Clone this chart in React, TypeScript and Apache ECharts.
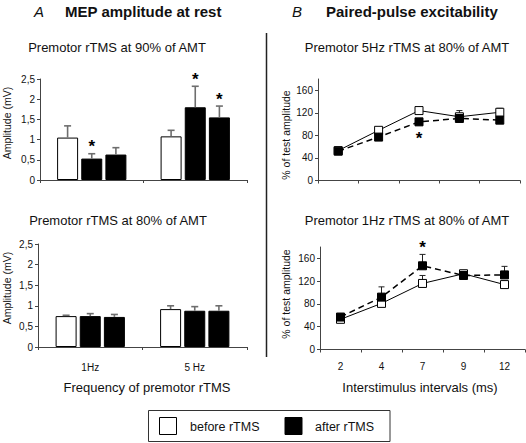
import React, { useEffect, useRef } from 'react';
import * as echarts from 'echarts';

// ---- Data ----
const barCategories = ['1Hz', '5 Hz'];
const barTicks = [0, 0.5, 1, 1.5, 2, 2.5];

// Premotor rTMS at 90% of AMT
const amt90Before = [1.05, 1.08];
const amt90BeforeErr = [1.34, 1.23];
const amt90After1 = [0.53, 1.8];
const amt90After1Err = [0.65, 2.32];
const amt90After2 = [0.63, 1.55];
const amt90After2Err = [0.8, 1.83];
const amt90After1Sig = [true, true];
const amt90After2Sig = [false, true];

// Premotor rTMS at 80% of AMT
const amt80Before = [0.75, 0.92];
const amt80BeforeErr = [0.77, 1.0];
const amt80After1 = [0.75, 0.88];
const amt80After1Err = [0.81, 0.98];
const amt80After2 = [0.73, 0.88];
const amt80After2Err = [0.79, 1.0];

const isiLabels = ['2', '4', '7', '9', '12'];
const lineTicks = [0, 40, 80, 120, 160];

// Premotor 5Hz rTMS at 80% of AMT
const hz5Before = [53, 89, 124, 113, 121];
const hz5BeforeErr = [55, 91, 127, 124, 128];
const hz5After = [52, 77, 104, 110, 107];
const hz5AfterErr = [54, 80, 107, 113, 110];
const hz5AfterSig = [false, false, true, false, false];

// Premotor 1Hz rTMS at 80% of AMT
const hz1Before = [53, 81, 116, 133, 114];
const hz1BeforeErr = [55, 84, 130, 136, 116];
const hz1After = [57, 92, 147, 130, 131];
const hz1AfterErr = [59, 110, 167, 139, 146];
const hz1AfterSig = [false, false, true, false, false];

const FONT = 'Liberation Sans, Arial, Helvetica, sans-serif';
const TXT = '#111';
const AX = '#444';

const BAR_W = 21;
const BAR_GAP = 0.15;
const BAR_STEP = BAR_W * (1 + BAR_GAP);

function barSeries(grid: number, data: number[], white: boolean, name: string) {
  return {
    name,
    type: 'bar',
    xAxisIndex: grid,
    yAxisIndex: grid,
    data,
    barWidth: BAR_W,
    barGap: BAR_GAP * 100 + '%',
    itemStyle: white
      ? { color: '#fff', borderColor: '#000', borderWidth: 1 }
      : { color: '#000', borderColor: '#000', borderWidth: 1 },
    silent: true,
    z: 2,
  };
}

function barErrSeries(grid: number, vals: number[], tops: number[], offset: number, sig?: boolean[]) {
  return {
    type: 'custom',
    xAxisIndex: grid,
    yAxisIndex: grid,
    z: 3,
    silent: true,
    data: vals.map((v, i) => [i, v, tops[i], sig && sig[i] ? 1 : 0]),
    renderItem: (params: any, api: any) => {
      const i = api.value(0);
      const b = api.coord([i, api.value(1)]);
      const t = api.coord([i, api.value(2)]);
      const x = b[0] + offset;
      const children: any[] = [
        { type: 'line', shape: { x1: x, y1: b[1], x2: x, y2: t[1] }, style: { stroke: '#6e6e6e', lineWidth: 1.6 } },
        { type: 'line', shape: { x1: x - 3.5, y1: t[1], x2: x + 3.5, y2: t[1] }, style: { stroke: '#6e6e6e', lineWidth: 1.6 } },
      ];
      if (api.value(3)) {
        children.push({
          type: 'text', x, y: t[1] - 7,
          style: { text: '*', fontSize: 17, fontWeight: 'bold', fontFamily: FONT, fill: '#000', align: 'center', verticalAlign: 'middle' },
        });
      }
      return { type: 'group', children };
    },
  };
}

function lineErrSeries(grid: number, vals: number[], tops: number[], sig?: boolean[], starBelow?: boolean) {
  return {
    type: 'custom',
    xAxisIndex: grid,
    yAxisIndex: grid,
    z: 1,
    silent: true,
    data: vals.map((v, i) => [i, v, tops[i], sig && sig[i] ? 1 : 0]),
    renderItem: (params: any, api: any) => {
      const i = api.value(0);
      const b = api.coord([i, api.value(1)]);
      const t = api.coord([i, api.value(2)]);
      const x = b[0];
      const children: any[] = [
        { type: 'line', shape: { x1: x, y1: b[1], x2: x, y2: t[1] }, style: { stroke: '#222', lineWidth: 1 } },
        { type: 'line', shape: { x1: x - 3, y1: t[1], x2: x + 3, y2: t[1] }, style: { stroke: '#222', lineWidth: 1 } },
      ];
      if (api.value(3)) {
        children.push({
          type: 'text', x, y: starBelow ? b[1] + 17 : t[1] - 7,
          style: { text: '*', fontSize: 17, fontWeight: 'bold', fontFamily: FONT, fill: '#000', align: 'center', verticalAlign: 'middle' },
        });
      }
      return { type: 'group', children };
    },
  };
}

function lineSeries(grid: number, data: number[], white: boolean) {
  return {
    type: 'line',
    xAxisIndex: grid,
    yAxisIndex: grid,
    data,
    symbol: 'rect',
    symbolSize: 8,
    silent: true,
    z: white ? 2 : 3,
    itemStyle: white
      ? { color: '#fff', borderColor: '#000', borderWidth: 1 }
      : { color: '#000', borderColor: '#000', borderWidth: 1 },
    lineStyle: white
      ? { color: '#000', width: 1, type: 'solid' }
      : { color: '#000', width: 1.5, type: [6, 4] },
  };
}

const axisLineStyle = { show: true, lineStyle: { color: AX, width: 1 } };
const axisTickStyle = { show: true, length: 3, inside: false, lineStyle: { color: AX } };

function barXAxis(grid: number, showLabels: boolean) {
  return {
    type: 'category',
    gridIndex: grid,
    data: barCategories,
    axisLine: axisLineStyle,
    axisTick: axisTickStyle,
    axisLabel: { show: showLabels, fontSize: 10, color: TXT, fontFamily: FONT, margin: 15 },
  };
}

function barYAxis(grid: number) {
  return {
    type: 'value',
    gridIndex: grid,
    min: barTicks[0],
    max: barTicks[barTicks.length - 1],
    interval: 0.5,
    splitLine: { show: false },
    axisLine: axisLineStyle,
    axisTick: axisTickStyle,
    axisLabel: {
      fontSize: 10, color: TXT, fontFamily: FONT, margin: 5,
      formatter: (v: number) => String(v).replace('.', ','),
    },
  };
}

function lineXAxis(grid: number, showLabels: boolean) {
  return {
    type: 'category',
    gridIndex: grid,
    data: isiLabels,
    axisLine: axisLineStyle,
    axisTick: axisTickStyle,
    axisLabel: { show: showLabels, fontSize: 10, color: TXT, fontFamily: FONT, margin: 12 },
  };
}

function lineYAxis(grid: number) {
  return {
    type: 'value',
    gridIndex: grid,
    min: 0,
    max: 180,
    splitLine: { show: false },
    axisLine: axisLineStyle,
    axisTick: { ...axisTickStyle, customValues: lineTicks },
    axisLabel: { fontSize: 10, color: TXT, fontFamily: FONT, margin: 5, customValues: lineTicks },
  };
}

function txt(text: string, x: number, y: number, size: number, extra: any = {}) {
  return {
    type: 'text', x, y, rotation: extra.rotation || 0,
    style: {
      text, fontSize: size, fontFamily: FONT, fill: TXT,
      fontWeight: extra.bold ? 'bold' : 'normal',
      fontStyle: extra.italic ? 'italic' : 'normal',
      align: extra.align || 'center', verticalAlign: 'middle',
    },
  };
}

export default function App() {
  const ref = useRef<HTMLDivElement>(null);
  useEffect(() => {
    if (!ref.current) return;
    const chart = echarts.init(ref.current, undefined, { renderer: 'svg' });
    const option: any = {
      animation: false,
      backgroundColor: '#fff',
      textStyle: { fontFamily: FONT },
      grid: [
        { left: 40, top: 79, width: 207, height: 101 },
        { left: 38, top: 244, width: 209, height: 103 },
        { left: 318, top: 79, width: 202, height: 101.5 },
        { left: 320, top: 247, width: 205, height: 102.5 },
      ],
      xAxis: [barXAxis(0, false), barXAxis(1, true), lineXAxis(2, false), lineXAxis(3, true)],
      yAxis: [barYAxis(0), barYAxis(1), lineYAxis(2), lineYAxis(3)],
      series: [
        barSeries(0, amt90Before, true, 'before'),
        barSeries(0, amt90After1, false, 'after1'),
        barSeries(0, amt90After2, false, 'after2'),
        barErrSeries(0, amt90Before, amt90BeforeErr, -BAR_STEP),
        barErrSeries(0, amt90After1, amt90After1Err, 0, amt90After1Sig),
        barErrSeries(0, amt90After2, amt90After2Err, BAR_STEP, amt90After2Sig),
        barSeries(1, amt80Before, true, 'before'),
        barSeries(1, amt80After1, false, 'after1'),
        barSeries(1, amt80After2, false, 'after2'),
        barErrSeries(1, amt80Before, amt80BeforeErr, -BAR_STEP),
        barErrSeries(1, amt80After1, amt80After1Err, 0),
        barErrSeries(1, amt80After2, amt80After2Err, BAR_STEP),
        lineErrSeries(2, hz5Before, hz5BeforeErr),
        lineErrSeries(2, hz5After, hz5AfterErr, hz5AfterSig, true),
        lineSeries(2, hz5Before, true),
        lineSeries(2, hz5After, false),
        lineErrSeries(3, hz1Before, hz1BeforeErr),
        lineErrSeries(3, hz1After, hz1AfterErr, hz1AfterSig, false),
        lineSeries(3, hz1Before, true),
        lineSeries(3, hz1After, false),
      ],
      graphic: [
        txt('A', 39, 11, 15, { italic: true }),
        txt('MEP amplitude at rest', 65, 11, 15, { bold: true, align: 'left' }),
        txt('B', 297, 11, 15, { italic: true }),
        txt('Paired-pulse excitability', 326, 11, 15, { bold: true, align: 'left' }),
        txt('Premotor rTMS at 90% of AMT', 117, 47, 13),
        txt('Premotor rTMS at 80% of AMT', 118, 220, 13),
        txt('Premotor 5Hz rTMS at 80% of AMT', 407, 47, 13),
        txt('Premotor 1Hz rTMS at 80% of AMT', 407, 220, 13),
        txt('Amplitude (mV)', 7, 123, 10.5, { rotation: Math.PI / 2 }),
        txt('Amplitude (mV)', 7, 288, 10.5, { rotation: Math.PI / 2 }),
        txt('% of test amplitude', 286, 135, 10.5, { rotation: Math.PI / 2 }),
        txt('% of test amplitude', 286, 294, 10.5, { rotation: Math.PI / 2 }),
        txt('Frequency of premotor rTMS', 147, 387, 13),
        txt('Interstimulus intervals (ms)', 420, 387, 13),
        {
          type: 'line',
          shape: { x1: 266.5, y1: 33, x2: 266.5, y2: 357 },
          style: { stroke: '#222', lineWidth: 1.5 },
        },
        {
          type: 'rect',
          shape: { x: 148.5, y: 410.5, width: 241.5, height: 31 },
          style: { fill: '#fff', stroke: '#333', lineWidth: 1 },
        },
        {
          type: 'rect',
          shape: { x: 159.5, y: 417.5, width: 17, height: 17 },
          style: { fill: '#fff', stroke: '#000', lineWidth: 1 },
        },
        txt('before rTMS', 190, 426.5, 12.5, { align: 'left' }),
        {
          type: 'rect',
          shape: { x: 285, y: 417.5, width: 17, height: 17 },
          style: { fill: '#000', stroke: '#000', lineWidth: 1 },
        },
        txt('after rTMS', 315, 426.5, 12.5, { align: 'left' }),
      ],
    };
    chart.setOption(option);
    return () => chart.dispose();
  }, []);
  return (
    <div
      ref={ref}
      style={{ position: 'absolute', left: 0, top: 0, width: 526, height: 443, background: '#fff' }}
    />
  );
}
